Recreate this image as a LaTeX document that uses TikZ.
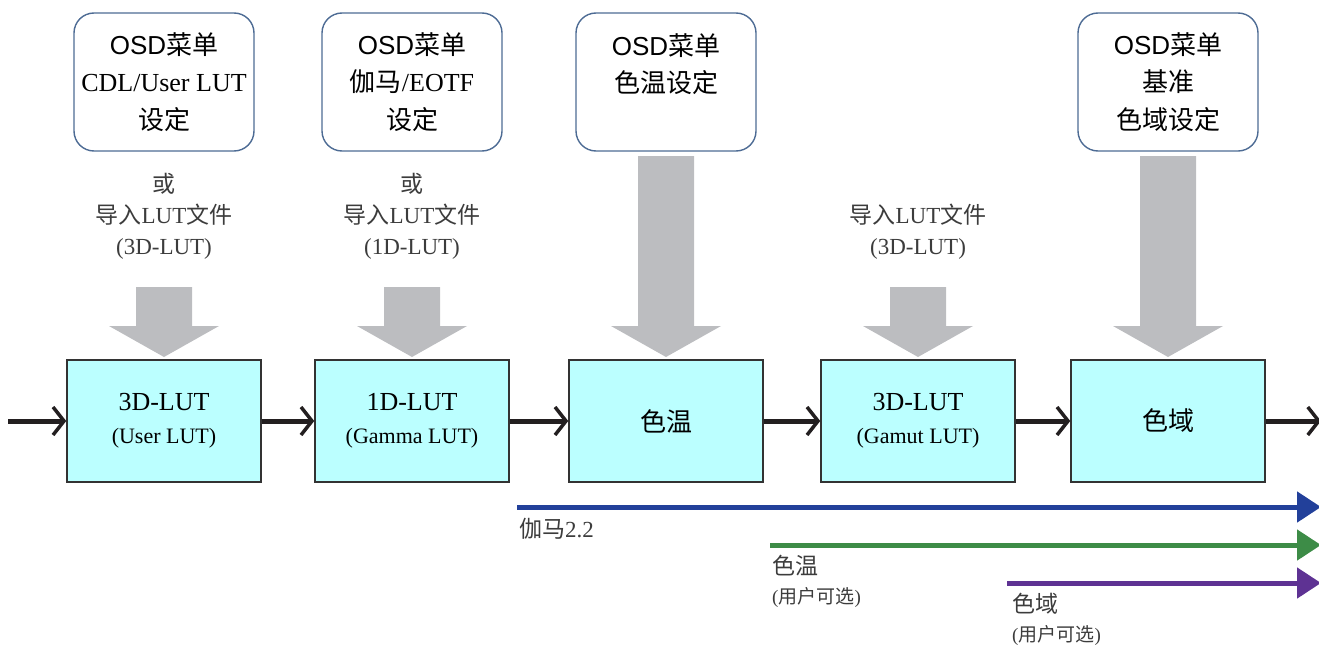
\documentclass[tikz,border=0pt]{standalone}
\usepackage{fontspec}
\setmainfont{Liberation Serif}
\newfontfamily\cjk{Noto Sans CJK SC}
\newfontfamily\osdsans{Liberation Sans}
\usetikzlibrary{arrows.meta}
\newcommand\zh[1]{{\cjk #1}}
\definecolor{arrowgrey}{HTML}{BCBDC0}
\definecolor{lutfill}{HTML}{BBFFFF}
\definecolor{lutline}{HTML}{333333}
\definecolor{osdline}{HTML}{4D6B94}
\definecolor{flowblack}{HTML}{231F20}
\definecolor{gblue}{HTML}{22409A}
\definecolor{tgreen}{HTML}{3D8C47}
\definecolor{gpurple}{HTML}{5E3293}
\definecolor{labelgrey}{HTML}{3C3C3C}
\newcommand\garrow[2]{\fill[arrowgrey] ({#1-28},#2) -- ({#1+28},#2) -- ({#1+28},326) -- ({#1+55},326) -- (#1,357) -- ({#1-55},326) -- ({#1-28},326) -- cycle;}
\tikzset{
  osdbox/.style={draw=osdline, line width=1.4pt, rounded corners=20pt, minimum width=180pt, minimum height=138pt, align=center, inner sep=0pt, font=\fontsize{26}{37.5}\selectfont},
  lutbox/.style={draw=lutline, fill=lutfill, line width=1.5pt, minimum width=194pt, minimum height=122pt, align=center, inner sep=0pt, font=\fontsize{26}{33}\selectfont},
  srclabel/.style={align=center, text=labelgrey, inner sep=0pt, font=\fontsize{23}{31}\selectfont},
  flow/.style={draw=flowblack, line width=5pt, -{Straight Barb[length=11pt,width=28pt,line width=3.5pt]}},
  pathline/.style={line width=5pt, -{Triangle[length=24pt,width=30pt]}},
  pathlabel/.style={align=left, anchor=north west, inner sep=0pt, text=labelgrey, font=\fontsize{23}{29}\selectfont}
}
\begin{document}
\begin{tikzpicture}[x=1pt,y=-1pt]
\useasboundingbox (0,0) rectangle (1319,645);
% OSD menu boxes
\node[osdbox] (m1) at (164,82) {{\osdsans OSD}\zh{菜单}\\CDL/User LUT\\\zh{设定}};
\node[osdbox] (m2) at (412,82) {{\osdsans OSD}\zh{菜单}\\\zh{伽马}/EOTF\\\zh{设定}};
\node[osdbox] (m3) at (666,82) {{\osdsans OSD}\zh{菜单}\\\zh{色温设定}\\\mbox{}};
\node[osdbox] (m5) at (1168,82) {{\osdsans OSD}\zh{菜单}\\\zh{基准}\\\zh{色域设定}};
% source labels
\node[srclabel] (s1) at (164,216) {\zh{或}\\\zh{导入}LUT\zh{文件}\\(3D-LUT)};
\node[srclabel] (s2) at (412,216) {\zh{或}\\\zh{导入}LUT\zh{文件}\\(1D-LUT)};
\node[srclabel] (s4) at (918,231.5) {\zh{导入}LUT\zh{文件}\\(3D-LUT)};
% grey block arrows
\garrow{164}{287}
\garrow{412}{287}
\garrow{666}{156}
\garrow{918}{287}
\garrow{1168}{156}
% processing boxes
\node[lutbox] (a) at (164,421) {3D-LUT\\{\fontsize{22}{33}\selectfont (User LUT)}};
\node[lutbox] (b) at (412,421) {1D-LUT\\{\fontsize{22}{33}\selectfont (Gamma LUT)}};
\node[lutbox] (c) at (666,421) {\zh{色温}};
\node[lutbox] (d) at (918,421) {3D-LUT\\{\fontsize{22}{33}\selectfont (Gamut LUT)}};
\node[lutbox] (e) at (1168,421) {\zh{色域}};
% signal flow
\coordinate (in) at (8,421);
\coordinate (out) at (1321,421);
\draw[flow] (in) -- (a.west);
\draw[flow] (a.east) -- (b.west);
\draw[flow] (b.east) -- (c.west);
\draw[flow] (c.east) -- (d.west);
\draw[flow] (d.east) -- (e.west);
\draw[flow] (e.east) -- (out);
% range arrows
\coordinate (g0) at (517,507);
\coordinate (g1) at (1321,507);
\coordinate (t0) at (770,545);
\coordinate (t1) at (1321,545);
\coordinate (p0) at (1007,583);
\coordinate (p1) at (1321,583);
\draw[pathline, gblue] (g0) -- (g1);
\draw[pathline, tgreen] (t0) -- (t1);
\draw[pathline, gpurple] (p0) -- (p1);
\node[pathlabel] (gl) at (519,518) {\zh{伽马}2.2};
\node[pathlabel] (tl) at (772,555) {\zh{色温}\\{\fontsize{19}{29}\selectfont (\zh{用户可选})}};
\node[pathlabel] (pl) at (1012,593) {\zh{色域}\\{\fontsize{19}{29}\selectfont (\zh{用户可选})}};
\end{tikzpicture}
\end{document}
